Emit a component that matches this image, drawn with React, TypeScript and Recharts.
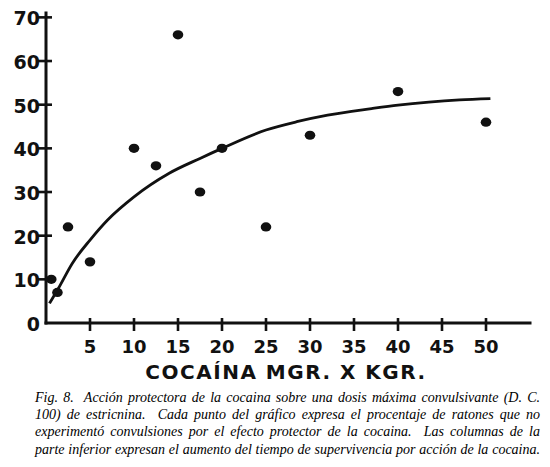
import React from "react";
import { ComposedChart, Scatter, Line, XAxis, YAxis } from "recharts";

// dosis de cocaína (mgr. x kgr.) y % de ratones sin convulsiones
const dosis = [0.6, 1.3, 2.5, 5, 10, 12.5, 15, 17.5, 20, 25, 30, 40, 50];
const protegidos = [10, 7, 22, 14, 40, 36, 66, 30, 40, 22, 43, 53, 46];

// curva trazada a mano
const curvaX = [0.4, 1.4, 3, 5, 7, 10, 14, 17.5, 20, 25, 28.5, 32, 37, 40, 43.5, 47, 50.5];
const curvaY = [4.5, 7.9, 13.7, 19, 23.6, 28.9, 34.3, 37.7, 40, 44.2, 46.1, 47.6, 49.1, 49.9, 50.6, 51.1, 51.4];

const X_TICKS = [5, 10, 15, 20, 25, 30, 35, 40, 45, 50];
const Y_TICKS = [0, 10, 20, 30, 40, 50, 60, 70];

const X_TITLE = "COCAÍNA MGR. X KGR.";
const CAPTION = [
  "Fig. 8.  Acción protectora de la cocaina sobre una dosis máxima convulsivante (D. C.",
  "100) de estricnina.  Cada punto del gráfico expresa el procentaje de ratones que no",
  "experimentó convulsiones por el efecto protector de la cocaina.  Las columnas de la",
  "parte inferior expresan el aumento del tiempo de supervivencia por acción de la cocaina.",
];

const INK = "#111";
const LETTER = "'DejaVu Sans', sans-serif";

const puntos = dosis.map((x, i) => ({ x, y: protegidos[i] }));
const curva = curvaX.map((x, i) => ({ x, y: curvaY[i] }));

function XTick({ x, y, payload }: any) {
  return (
    <g>
      <line x1={x} x2={x} y1={y - 5} y2={y + 8} stroke={INK} strokeWidth={2.6} />
      <text x={x} y={y + 23} textAnchor="middle" dominantBaseline="central"
        fontFamily={LETTER} fontWeight="bold" fontSize={18} fill={INK}>
        {payload.value}
      </text>
    </g>
  );
}

function YTick({ x, y, payload }: any) {
  return (
    <g>
      {payload.value > 0 && <line x1={x - 8} x2={x + 6} y1={y} y2={y} stroke={INK} strokeWidth={2.6} />}
      <text x={x - 6} y={y + 1} textAnchor="end" dominantBaseline="central"
        fontFamily={LETTER} fontWeight="bold" fontSize={19} fill={INK}>
        {payload.value}
      </text>
    </g>
  );
}

function XTitle({ viewBox }: any) {
  const vb = viewBox || { x: 46, y: 323, width: 484 };
  return (
    <text x={vb.x + vb.width / 2 - 2} y={vb.y + 49} textAnchor="middle" dominantBaseline="central"
      fontFamily={LETTER} fontWeight="bold" fontSize={20} letterSpacing={1.5} fill={INK}>
      {X_TITLE}
    </text>
  );
}

const Dot = (p: any) => <ellipse cx={p.cx} cy={p.cy} rx={5.3} ry={4.6} fill={INK} />;

export default function App() {
  return (
    <div style={{ position: "absolute", left: 0, top: 0, width: 550, height: 467, background: "#fff" }}>
      <ComposedChart width={550} height={385} margin={{ top: 13, right: 20, bottom: 32, left: 6 }}>
        <XAxis type="number" dataKey="x" domain={[0, 55]} ticks={X_TICKS} allowDataOverflow
          height={30} tickSize={0} tickMargin={0} tick={<XTick />} tickLine={false}
          label={<XTitle />}
          axisLine={{ stroke: INK, strokeWidth: 3, strokeLinecap: "square" }} />
        <YAxis type="number" dataKey="y" domain={[0, 71]} ticks={Y_TICKS} allowDataOverflow
          width={40} tickSize={0} tickMargin={0} tick={<YTick />} tickLine={false}
          axisLine={{ stroke: INK, strokeWidth: 3, strokeLinecap: "square" }} />
        <Line data={curva} dataKey="y" type="monotone" stroke={INK} strokeWidth={2.8}
          dot={false} isAnimationActive={false} />
        <Scatter data={puntos} dataKey="y" shape={Dot} isAnimationActive={false} />
      </ComposedChart>
      <div style={{
        marginLeft: 35, marginTop: 4, width: 505,
        fontFamily: "'Liberation Serif', serif", fontStyle: "italic", fontSize: 14,
        lineHeight: "17.2px", color: "#000",
      }}>
        {CAPTION.map((l) => (
          <div key={l} style={{ textAlign: "justify", textAlignLast: "justify", whiteSpace: "pre-wrap" }}>{l}</div>
        ))}
      </div>
    </div>
  );
}
